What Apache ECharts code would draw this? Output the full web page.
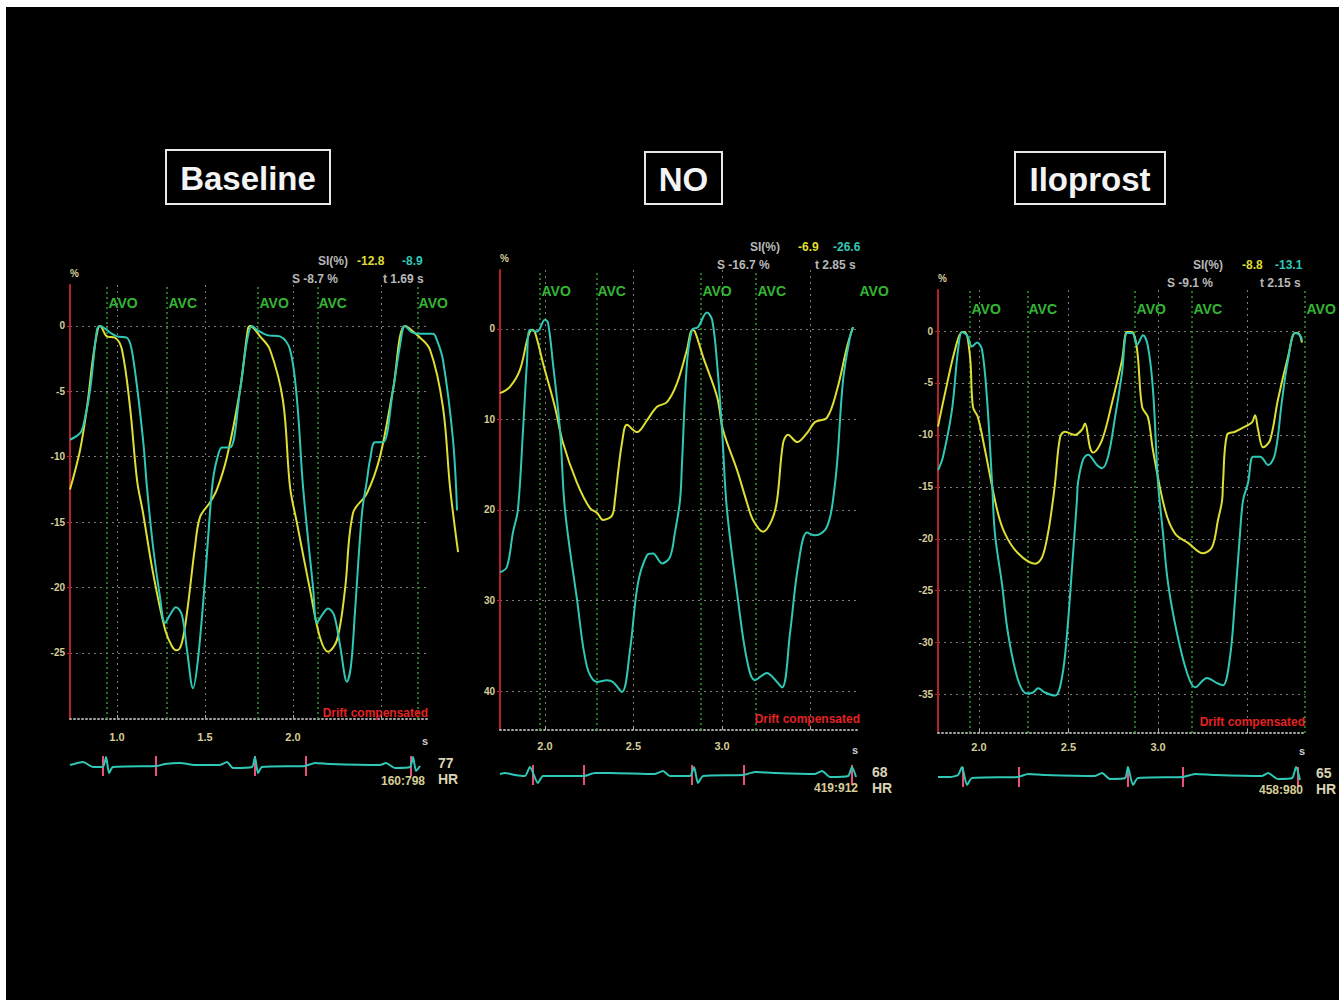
<!DOCTYPE html>
<html>
<head>
<meta charset="utf-8">
<script src="https://cdn.jsdelivr.net/npm/echarts@6.0.0/dist/echarts.min.js"></script>
<style>
html,body{margin:0;padding:0;background:#000;}
#chart{width:1339px;height:1000px;}
</style>
</head>
<body>
<div id="chart"></div>
<script>
// ---------------- DATA ----------------
// time [s], strain [%]
const baselineYellow = [[0.733,-12.5],[0.790,-9.5],[0.830,-6.2],[0.864,-2.4],[0.892,-0.2],[0.903,0],[0.943,-0.8],[0.989,-0.9],[1.028,-1.8],[1.074,-6.2],[1.114,-11.8],[1.148,-14.3],[1.205,-18.9],[1.273,-23.2],[1.313,-24.5],[1.341,-24.8],[1.369,-24.2],[1.398,-21.9],[1.443,-16.9],[1.472,-14.6],[1.528,-13.5],[1.568,-12.5],[1.625,-10.0],[1.699,-4.9],[1.744,-0.2],[1.756,0],[1.813,-0.8],[1.869,-1.8],[1.943,-5.7],[1.983,-12.3],[2.023,-15.1],[2.097,-20.2],[2.153,-23.8],[2.199,-24.9],[2.250,-24.0],[2.295,-20.2],[2.341,-14.3],[2.420,-12.8],[2.494,-10.0],[2.568,-4.9],[2.636,0],[2.705,-0.7],[2.778,-1.8],[2.852,-6.2],[2.892,-12.3],[2.938,-17.3]];
const baselineTeal = [[0.733,-8.7],[0.790,-8.2],[0.807,-7.7],[0.847,-4.9],[0.886,-0.3],[0.903,0],[0.960,-0.5],[1.0,-0.8],[1.057,-0.9],[1.091,-2.4],[1.148,-8.7],[1.170,-12.3],[1.205,-16.9],[1.244,-20.7],[1.273,-22.7],[1.301,-22.1],[1.335,-21.5],[1.369,-22.1],[1.398,-24.8],[1.432,-27.7],[1.460,-25.5],[1.500,-19.4],[1.528,-14.3],[1.545,-11.8],[1.568,-10.2],[1.597,-9.3],[1.642,-9.3],[1.699,-4.9],[1.739,-1.1],[1.767,0],[1.795,-0.3],[1.852,-0.7],[1.926,-0.8],[1.983,-1.8],[2.023,-5.7],[2.057,-12.3],[2.114,-20.0],[2.136,-22.7],[2.165,-22.1],[2.199,-21.6],[2.233,-22.1],[2.267,-24.4],[2.307,-27.2],[2.330,-25.9],[2.352,-21.9],[2.392,-14.3],[2.420,-11.8],[2.438,-10.2],[2.466,-8.9],[2.511,-8.9],[2.568,-4.9],[2.608,-1.5],[2.636,0],[2.676,-0.5],[2.722,-0.6],[2.795,-0.6],[2.818,-1.1],[2.852,-2.6],[2.909,-8.7],[2.932,-14.1]];

const noYellow = [[1.746,-7.1],[1.802,-6.4],[1.859,-4.5],[1.904,-0.9],[1.927,-0.1],[1.944,-0.4],[1.989,-3.8],[2.056,-8.6],[2.102,-12.6],[2.181,-17.0],[2.254,-19.8],[2.294,-20.3],[2.328,-21.1],[2.379,-20.6],[2.395,-18.9],[2.412,-16.0],[2.435,-12.6],[2.463,-10.6],[2.520,-11.4],[2.576,-10.1],[2.633,-8.6],[2.689,-8.1],[2.746,-6.0],[2.802,-2.3],[2.831,-0.1],[2.847,-0.3],[2.893,-3.1],[2.972,-7.5],[3.006,-11.2],[3.085,-15.6],[3.141,-19.2],[3.175,-21.1],[3.232,-22.4],[3.282,-21.1],[3.311,-18.9],[3.345,-12.6],[3.373,-11.7],[3.424,-12.5],[3.480,-11.5],[3.525,-10.3],[3.593,-9.8],[3.650,-6.7],[3.706,-2.0],[3.740,0.2]];
const noTeal = [[1.746,-26.9],[1.785,-26.3],[1.819,-22.5],[1.847,-20.0],[1.876,-11.2],[1.898,-3.8],[1.915,-0.1],[1.955,-0.3],[2.0,1.0],[2.017,0.7],[2.045,-3.8],[2.085,-11.2],[2.113,-20.0],[2.181,-29.9],[2.237,-37.3],[2.294,-39.0],[2.350,-38.8],[2.384,-39.0],[2.435,-40.1],[2.480,-35.5],[2.525,-28.1],[2.576,-25.0],[2.610,-24.8],[2.661,-25.9],[2.706,-25.2],[2.734,-22.5],[2.763,-18.9],[2.774,-14.8],[2.802,-3.8],[2.831,-0.1],[2.864,0.2],[2.915,1.8],[2.944,1.0],[2.972,-3.8],[3.0,-11.2],[3.028,-20.0],[3.090,-29.9],[3.141,-36.6],[3.186,-38.8],[3.254,-38.0],[3.288,-38.5],[3.339,-39.6],[3.384,-33.6],[3.429,-26.3],[3.480,-22.5],[3.525,-22.8],[3.582,-22.2],[3.610,-20.8],[3.627,-18.9],[3.650,-14.8],[3.684,-5.6],[3.723,-0.9],[3.740,0.2]];

const iloYellow = [[1.771,-9.2],[1.810,-6.0],[1.866,-1.8],[1.905,-0.1],[1.922,-0.1],[1.950,-2.5],[1.966,-7.3],[1.994,-8.3],[2.034,-11.5],[2.101,-17.2],[2.145,-19.5],[2.218,-21.4],[2.313,-22.4],[2.352,-21.8],[2.385,-19.5],[2.413,-16.3],[2.425,-14.6],[2.453,-10.2],[2.480,-9.7],[2.536,-10.0],[2.575,-9.5],[2.592,-8.9],[2.620,-11.2],[2.637,-11.7],[2.687,-10.5],[2.743,-6.9],[2.799,-2.8],[2.827,-0.1],[2.855,-0.1],[2.883,-1.8],[2.911,-7.3],[2.944,-8.3],[2.972,-11.5],[3.039,-17.2],[3.095,-19.5],[3.168,-20.4],[3.251,-21.4],[3.302,-20.8],[3.335,-18.2],[3.358,-16.3],[3.363,-14.6],[3.385,-10.0],[3.430,-9.7],[3.486,-9.2],[3.525,-8.8],[3.542,-8.1],[3.559,-9.5],[3.587,-11.2],[3.626,-10.5],[3.670,-6.6],[3.726,-2.5],[3.765,-0.2],[3.782,-0.2],[3.804,-1.1]];
const iloTeal = [[1.771,-13.4],[1.799,-12.1],[1.849,-7.6],[1.883,-1.8],[1.905,-0.1],[1.933,-0.4],[1.961,-1.5],[1.989,-1.1],[2.017,-1.8],[2.045,-6.6],[2.073,-14.6],[2.089,-19.5],[2.128,-24.3],[2.162,-29.1],[2.218,-33.6],[2.268,-34.9],[2.302,-34.8],[2.330,-34.4],[2.369,-34.8],[2.425,-35.1],[2.464,-33.3],[2.492,-29.1],[2.520,-22.7],[2.547,-16.3],[2.553,-14.6],[2.581,-12.4],[2.609,-11.9],[2.659,-12.9],[2.687,-13.2],[2.721,-12.1],[2.760,-8.3],[2.799,-4.0],[2.827,-0.2],[2.855,-0.2],[2.883,-1.3],[2.916,-0.4],[2.944,-1.5],[2.972,-5.7],[3.0,-14.6],[3.028,-19.5],[3.056,-24.3],[3.106,-29.1],[3.162,-32.9],[3.207,-34.3],[3.274,-33.4],[3.330,-33.9],[3.363,-34.1],[3.402,-31.4],[3.430,-25.9],[3.458,-19.5],[3.475,-16.3],[3.503,-14.6],[3.531,-12.1],[3.570,-12.1],[3.615,-12.9],[3.654,-11.8],[3.693,-6.6],[3.726,-2.8],[3.765,-0.2],[3.793,-0.4],[3.804,-0.9]];

// ECG strip: time [s], deflection (screen units)
const baselineEcg = [[0.733,1],[0.807,4],[0.864,-1],[0.920,-1],[0.938,9],[0.955,-7],[0.977,-1],[1.227,0],[1.273,2],[1.358,3],[1.443,1],[1.585,1],[1.625,4],[1.659,-2],[1.767,-1],[1.784,9],[1.801,-7],[1.824,-1],[2.068,0],[2.125,3],[2.210,2],[2.494,1],[2.528,3],[2.580,-2],[2.665,-1],[2.682,9],[2.699,-5],[2.722,0]];
const noEcg = [[1.746,1],[1.774,2],[1.831,0],[1.887,-1],[1.915,8],[1.960,-8],[1.989,-1],[2.220,-1],[2.282,2],[2.367,2],[2.621,1],[2.667,4],[2.706,-1],[2.819,-1],[2.842,8],[2.864,-8],[2.893,-1],[3.119,0],[3.186,3],[3.299,2],[3.525,1],[3.565,4],[3.610,-2],[3.712,-1],[3.734,8],[3.757,-2]];
const iloEcg = [[1.771,0],[1.838,0],[1.883,2],[1.905,10],[1.933,-8],[1.961,-1],[2.218,0],[2.274,3],[2.369,2],[2.648,1],[2.687,4],[2.732,-2],[2.816,-1],[2.832,10],[2.860,-8],[2.888,-1],[3.140,0],[3.207,3],[3.318,2],[3.581,1],[3.615,4],[3.670,-2],[3.749,-1],[3.771,10],[3.793,-3]];

// event markers (valve opening / closing)
const baselineEventTimes = [0.943, 1.284, 1.801, 2.136, 2.705];
const noEventTimes = [1.972, 2.288, 2.881, 3.192, 3.768];
const iloEventTimes = [1.950, 2.268, 2.872, 3.190, 3.821];
const eventNames = ['AVO', 'AVC', 'AVO', 'AVC', 'AVO'];

// ECG markers
const baselineEcgMarks = [0.915, 1.216, 1.784, 2.068, 2.665];
const noEcgMarks = [1.927, 2.220, 2.831, 3.119, 3.734];
const iloEcgMarks = [1.905, 2.218, 2.832, 3.140, 3.777];

// axis ticks
const baselineYTicks = [0, -5, -10, -15, -20, -25];
const noYTicks = [0, -10, -20, -30, -40];
const iloYTicks = [0, -5, -10, -15, -20, -25, -30, -35];
const baselineXGrid = [1.0, 1.5, 2.0, 2.5];
const noXGrid = [2.0, 2.5, 3.0, 3.5];
const iloXGrid = [2.0, 2.5, 3.0, 3.5];
const baselineXLabels = [1.0, 1.5, 2.0];
const noXLabels = [2.0, 2.5, 3.0];
const iloXLabels = [2.0, 2.5, 3.0];

// readouts
const panelTitles = ['Baseline', 'NO', 'Iloprost'];
const baselineSI = [-12.8, -8.9];
const noSI = [-6.9, -26.6];
const iloSI = [-8.8, -13.1];
const strainValues = [-8.7, -16.7, -9.1];
const cursorTimes = [1.69, 2.85, 2.15];
const heartRates = [77, 68, 65];
const frameLabels = ['160:798', '419:912', '458:980'];

// ---------------- LAYOUT / STYLE ----------------
const beige = '#d6cd98';
const yellowC = '#dede34';
const tealC = '#2fc8b6';
const greenC = '#44e444';
const fontN = '"Liberation Sans", Arial, sans-serif';
const fontB = '"Liberation Sans", Arial, sans-serif';

const panels = [
  {yellow: baselineYellow, teal: baselineTeal, ecg: baselineEcg, events: baselineEventTimes, marks: baselineEcgMarks,
   yTicks: baselineYTicks, xGrid: baselineXGrid, xLabels: baselineXLabels, si: baselineSI,
   left: 70, right: 428, top: 285, bottom: 719, xMin: 0.733, xMax: 2.767, yMin: -30.05, yMax: 3.13,
   labelV: 1.76, ecgTop: 756, xLabelMargin: 12, yFmt: v => String(v),
   box: [166, 150, 164, 54], siY: 261, sX: [318, 357, 402], line2: [292, 383], line2Y: 279,
   drift: [428, 713], hr: [438, 763, 779], frames: [425, 781]},
  {yellow: noYellow, teal: noTeal, ecg: noEcg, events: noEventTimes, marks: noEcgMarks,
   yTicks: noYTicks, xGrid: noXGrid, xLabels: noXLabels, si: noSI,
   left: 500, right: 858, top: 270, bottom: 730, xMin: 1.746, xMax: 3.768, yMin: -44.3, yMax: 6.5,
   labelV: 4.2, ecgTop: 765, xLabelMargin: 10, yFmt: v => String(Math.abs(v)),
   box: [645, 152, 77, 52], siY: 247, sX: [750, 798, 833], line2: [717, 815], line2Y: 265,
   drift: [860, 719], hr: [872, 772, 788], frames: [858, 788]},
  {yellow: iloYellow, teal: iloTeal, ecg: iloEcg, events: iloEventTimes, marks: iloEcgMarks,
   yTicks: iloYTicks, xGrid: iloXGrid, xLabels: iloXLabels, si: iloSI,
   left: 938, right: 1305, top: 290, bottom: 733, xMin: 1.771, xMax: 3.821, yMin: -38.7, yMax: 3.95,
   labelV: 2.1, ecgTop: 767, xLabelMargin: 8, yFmt: v => String(v),
   box: [1015, 152, 150, 52], siY: 265, sX: [1193, 1242, 1275], line2: [1167, 1260], line2Y: 283,
   drift: [1305, 722], hr: [1316, 773, 789], frames: [1303, 790]}
];
const overhang = 34; // traces run a little past the right end of the axis

const grid = [], xAxis = [], yAxis = [], series = [], graphic = [];

graphic.push({type: 'rect', shape: {x: 0, y: 0, width: 6, height: 1000}, style: {fill: '#ffffff'}, silent: true});
graphic.push({type: 'rect', shape: {x: 0, y: 0, width: 1339, height: 7}, style: {fill: '#ffffff'}, silent: true});

function txt(x, y, text, fill, font, align, valign) {
  return {type: 'text', x: x, y: y, silent: true, z: 10,
    style: {text: text, fill: fill, font: font, textAlign: align || 'left', textVerticalAlign: valign || 'middle'}};
}

panels.forEach((p, i) => {
  const w = p.right - p.left;
  const h = p.bottom - p.top;
  const gMain = grid.length;
  grid.push({left: p.left, top: p.top, width: w, height: h, show: false, containLabel: false, outerBoundsMode: 'none'});
  const gTrace = grid.length;
  grid.push({left: p.left, top: p.top, width: w + overhang, height: h, show: false, containLabel: false, outerBoundsMode: 'none'});
  const gEcg = grid.length;
  grid.push({left: p.left, top: p.ecgTop, width: w, height: 20, show: false, containLabel: false, outerBoundsMode: 'none'});

  // visible axes (index == grid index)
  xAxis.push({
    gridIndex: gMain, type: 'value', min: p.xMin, max: p.xMax,
    axisLine: {show: true, onZero: false, lineStyle: {color: '#a8a8a8', type: [1, 3], width: 2}},
    axisTick: {show: true, customValues: p.xGrid, length: 4, inside: true, lineStyle: {color: '#a8a8a8'}},
    axisLabel: {show: true, customValues: p.xLabels, color: beige, fontSize: 11, fontWeight: 'bold', fontFamily: fontN,
      margin: p.xLabelMargin, formatter: v => Number(v).toFixed(1)},
    splitLine: {show: true, lineStyle: {color: '#7a7a7a', type: [2, 4], width: 1}},
    name: 's', nameLocation: 'end', nameGap: 0,
    nameTextStyle: {color: '#cfcfcf', fontSize: 11, fontWeight: 'bold', fontFamily: fontN, align: 'right',
      verticalAlign: 'top', padding: [p.xLabelMargin + 4, 0, 0, 0]}
  });
  yAxis.push({
    gridIndex: gMain, type: 'value', min: p.yMin, max: p.yMax,
    axisLine: {show: true, onZero: false, lineStyle: {color: '#b3222c', width: 2}},
    axisTick: {show: true, customValues: p.yTicks, length: 3, lineStyle: {color: '#b3222c'}},
    axisLabel: {show: true, customValues: p.yTicks, color: beige, fontSize: 10, fontWeight: 'bold', fontFamily: fontN,
      margin: 5, formatter: p.yFmt},
    splitLine: {show: true, lineStyle: {color: '#7a7a7a', type: [2, 4], width: 1}},
    name: '%', nameLocation: 'end', nameGap: 7,
    nameTextStyle: {color: beige, fontSize: 10, fontWeight: 'bold', fontFamily: fontN, align: 'left'}
  });
  // hidden trace axes: same scale, slightly wider span
  xAxis.push({gridIndex: gTrace, type: 'value', min: p.xMin, max: p.xMin + (p.xMax - p.xMin) * (w + overhang) / w, show: false});
  yAxis.push({gridIndex: gTrace, type: 'value', min: p.yMin, max: p.yMax, show: false});
  // hidden ECG axes
  xAxis.push({gridIndex: gEcg, type: 'value', min: p.xMin, max: p.xMax, show: false});
  yAxis.push({gridIndex: gEcg, type: 'value', min: -10, max: 10, show: false});

  // event markers (green dotted) and labels
  series.push({
    type: 'scatter', xAxisIndex: gMain, yAxisIndex: gMain, symbolSize: 1,
    itemStyle: {color: 'rgba(0,0,0,0)'}, silent: true, z: 4,
    data: p.events.map((t, k) => ({value: [t, p.labelV], name: eventNames[k]})),
    label: {show: true, position: 'right', distance: 1, formatter: '{b}', color: greenC,
      fontSize: 14, fontWeight: 'bold', fontFamily: fontN},
    markLine: {symbol: 'none', silent: true, animation: false, label: {show: false},
      lineStyle: {color: '#2f9c2f', type: [2, 3], width: 1.5},
      data: p.events.map(t => ({xAxis: t}))}
  });

  series.push({
    type: 'line', xAxisIndex: gTrace, yAxisIndex: gTrace, data: p.yellow, symbol: 'none', showSymbol: false,
    smooth: 0.35, clip: false, lineStyle: {color: yellowC, width: 2}, z: 5, silent: true
  });
  series.push({
    type: 'line', xAxisIndex: gTrace, yAxisIndex: gTrace, data: p.teal, symbol: 'none', showSymbol: false,
    smooth: 0.35, clip: false, lineStyle: {color: tealC, width: 2}, z: 6, silent: true
  });
  series.push({
    type: 'line', xAxisIndex: gEcg, yAxisIndex: gEcg, data: p.ecg, symbol: 'none', showSymbol: false,
    smooth: 0.2, clip: false, lineStyle: {color: tealC, width: 2}, z: 5, silent: true,
    markLine: {symbol: 'none', silent: true, animation: false, label: {show: false},
      lineStyle: {color: '#e8507a', type: 'solid', width: 2},
      data: p.marks.map(t => ({xAxis: t}))}
  });

  // title box
  const b = p.box;
  graphic.push({type: 'rect', silent: true, z: 10, shape: {x: b[0], y: b[1], width: b[2], height: b[3]},
    style: {fill: '#000', stroke: '#e8e8e8', lineWidth: 2}});
  graphic.push(txt(b[0] + b[2] / 2, b[1] + b[3] / 2 + 1, panelTitles[i], '#f4f4f4', 'bold 33px ' + fontB, 'center', 'middle'));

  // readouts
  graphic.push(txt(p.sX[0], p.siY, 'SI(%)', '#b8b8b8', 'bold 12px ' + fontN));
  graphic.push(txt(p.sX[1], p.siY, p.si[0].toFixed(1), yellowC, 'bold 12px ' + fontN));
  graphic.push(txt(p.sX[2], p.siY, p.si[1].toFixed(1), tealC, 'bold 12px ' + fontN));
  graphic.push(txt(p.line2[0], p.line2Y, 'S ' + strainValues[i].toFixed(1) + ' %', '#b8b8b8', 'bold 12px ' + fontN));
  graphic.push(txt(p.line2[1], p.line2Y, 't ' + cursorTimes[i].toFixed(2) + ' s', '#b8b8b8', 'bold 12px ' + fontN));

  graphic.push(txt(p.drift[0], p.drift[1], 'Drift compensated', '#e32222', 'bold 12px ' + fontN, 'right'));
  graphic.push(txt(p.hr[0], p.hr[1], String(heartRates[i]), '#d9d2b4', 'bold 14px ' + fontN));
  graphic.push(txt(p.hr[0], p.hr[2], 'HR', '#d9d2b4', 'bold 14px ' + fontN));
  graphic.push(txt(p.frames[0], p.frames[1], frameLabels[i], beige, 'bold 12px ' + fontN, 'right'));
});

const chart = echarts.init(document.getElementById('chart'), null, {renderer: 'svg'});
chart.setOption({
  backgroundColor: '#000',
  animation: false,
  grid: grid,
  xAxis: xAxis,
  yAxis: yAxis,
  series: series,
  graphic: graphic
});
</script>
</body>
</html>
